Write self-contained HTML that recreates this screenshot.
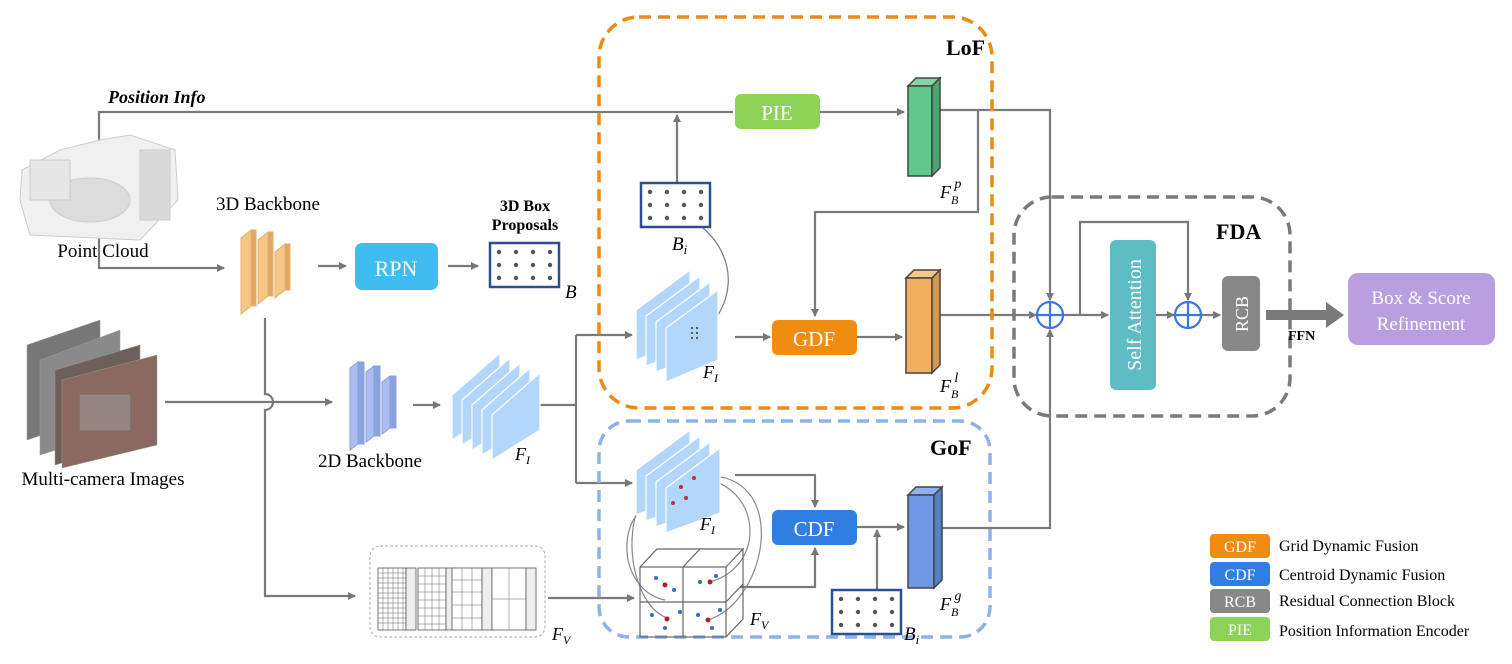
<!DOCTYPE html>
<html><head><meta charset="utf-8"><style>
html,body{margin:0;padding:0;background:#fff}
svg{display:block}
text{font-family:"Liberation Serif",serif}
</style></head><body>
<svg width="1512" height="664" viewBox="0 0 1512 664" xmlns="http://www.w3.org/2000/svg">
<defs>
<marker id="a" markerWidth="8" markerHeight="8" refX="7" refY="4" orient="auto" markerUnits="userSpaceOnUse"><path d="M0,0 L8,4 L0,8 z" fill="#777"/></marker>
</defs>
<g stroke="#7a7a7a" stroke-width="2.2" fill="none">
<polyline points="99,160 99,112 733,112" />
<polyline points="677,183 677,115" marker-end="url(#a)"/>
<line x1="820" y1="112" x2="904" y2="112" marker-end="url(#a)"/>
<polyline points="940,110 1050,110 1050,300" marker-end="url(#a)"/>
<polyline points="978,110 978,212 815,212 815,316" marker-end="url(#a)"/>
<polyline points="99,215 99,268 224,268" marker-end="url(#a)"/>
<line x1="318" y1="266" x2="346" y2="266" marker-end="url(#a)"/>
<line x1="448" y1="266" x2="478" y2="266" marker-end="url(#a)"/>
<path d="M265,318 L265,394 A8,8 0 0 1 265,410 L265,596 L355,596" marker-end="url(#a)"/>
<path d="M165,402 L332,402" marker-end="url(#a)"/>
<line x1="413" y1="405" x2="440" y2="405" marker-end="url(#a)"/>
<polyline points="540,405 576,405"/>
<polyline points="576,335 576,483"/>
<line x1="576" y1="335" x2="632" y2="335" marker-end="url(#a)"/>
<line x1="576" y1="483" x2="632" y2="483" marker-end="url(#a)"/>
<line x1="735" y1="337" x2="770" y2="337" marker-end="url(#a)"/>
<line x1="857" y1="337" x2="902" y2="337" marker-end="url(#a)"/>
<line x1="940" y1="315" x2="1036" y2="315" marker-end="url(#a)"/>
<path d="M703,228 C740,260 735,310 697,337" stroke-width="1.2" marker-end="url(#a)"/>
<polyline points="735,475 815,475 815,507" marker-end="url(#a)"/>
<polyline points="740,587 815,587 815,548" marker-end="url(#a)"/>
<line x1="857" y1="527" x2="904" y2="527" marker-end="url(#a)"/>
<line x1="877" y1="590" x2="877" y2="530" marker-end="url(#a)"/>
<polyline points="940,528 1050,528 1050,330" marker-end="url(#a)"/>
<line x1="548" y1="598" x2="634" y2="598" marker-end="url(#a)"/>
<line x1="1062" y1="315" x2="1108" y2="315" marker-end="url(#a)"/>
<polyline points="1080,315 1080,222 1188,222 1188,300" marker-end="url(#a)"/>
<line x1="1155" y1="315" x2="1174" y2="315" marker-end="url(#a)"/>
<line x1="1200" y1="315" x2="1220" y2="315" marker-end="url(#a)"/>
<g stroke-width="1.2" stroke="#888">
<path d="M665,600 C615,590 610,500 675,494" marker-end="url(#a)"/>
<path d="M667,618 C620,600 615,470 685,478" marker-end="url(#a)"/>
<path d="M710,582 C770,565 760,480 696,478" marker-end="url(#a)"/>
<path d="M708,620 C770,600 790,470 702,476" />
</g>
</g>
<rect x="599" y="17" width="393" height="391" rx="40" fill="none" stroke="#ec8a12" stroke-width="3.5" stroke-dasharray="12,7"/>
<rect x="599" y="421" width="391" height="216" rx="30" fill="none" stroke="#8db2ea" stroke-width="3.5" stroke-dasharray="12,7"/>
<rect x="1014" y="197" width="276" height="219" rx="38" fill="none" stroke="#7a7a7a" stroke-width="3.5" stroke-dasharray="12,7"/>
<rect x="370" y="546" width="175" height="91" rx="10" fill="none" stroke="#aaa" stroke-width="1" stroke-dasharray="3,2"/>
<text x="946" y="55" font-size="22" font-weight="bold">LoF</text>
<text x="930" y="455" font-size="22" font-weight="bold">GoF</text>
<text x="1216" y="239" font-size="22" font-weight="bold">FDA</text>
<text x="108" y="103" font-size="18" font-weight="bold" font-style="italic">Position Info</text>
<g fill="#e4e4e4" stroke="#ccc" stroke-width="1">
<path d="M22,170 L60,150 L100,140 L130,135 L175,150 L178,200 L140,240 L30,235 L20,200 z" fill="#f0f0f0"/>
<ellipse cx="90" cy="200" rx="40" ry="22" fill="#dcdcdc"/>
<rect x="140" y="150" width="30" height="70" fill="#dadada"/>
<rect x="30" y="160" width="40" height="40" fill="#e6e6e6"/>
</g>
<text x="103" y="257" font-size="19" text-anchor="middle">Point Cloud</text>
<g stroke="#999" stroke-width="0.5">
<polygon points="27,345 100,320 100,415 27,440" fill="#777"/>
<polygon points="40,360 120,330 120,430 40,455" fill="#8a8a8a"/>
<polygon points="55,370 140,345 140,440 55,465" fill="#6d5f5a"/>
<polygon points="62,380 157,355 157,445 62,468" fill="#8a6a60"/>
<rect x="80" y="395" width="50" height="35" fill="#999" opacity=".6"/>
</g>
<text x="103" y="485" font-size="19" text-anchor="middle">Multi-camera Images</text>
<text x="268" y="210" font-size="19" text-anchor="middle">3D Backbone</text>
<g stroke="#e0b070" stroke-width="1">
<polygon points="241,238 251,230 251,306 241,314" fill="#f6c784"/>
<polygon points="251,230 256,230 256,306 251,306" fill="#e3a860"/>
<polygon points="258,240 268,232 268,296 258,304" fill="#f6c784"/>
<polygon points="268,232 273,232 273,296 268,296" fill="#e3a860"/>
<polygon points="275,252 285,244 285,290 275,298" fill="#f6c784"/>
<polygon points="285,244 290,244 290,290 285,290" fill="#e3a860"/>
</g>
<rect x="355" y="243" width="83" height="47" rx="7" fill="#3ebdf0"/>
<text x="396" y="276" font-size="22" fill="#fff" text-anchor="middle">RPN</text>
<text x="525" y="211" font-size="16" font-weight="bold" text-anchor="middle">3D Box</text>
<text x="525" y="230" font-size="16" font-weight="bold" text-anchor="middle">Proposals</text>
<g id="bx">
<rect x="490" y="243" width="69" height="44" fill="#fff" stroke="#2b4f94" stroke-width="2.5"/>
<g fill="#555"><circle cx="499" cy="252" r="2.2"/><circle cx="516" cy="252" r="2.2"/><circle cx="533" cy="252" r="2.2"/><circle cx="550" cy="252" r="2.2"/>
<circle cx="499" cy="265" r="2.2"/><circle cx="516" cy="265" r="2.2"/><circle cx="533" cy="265" r="2.2"/><circle cx="550" cy="265" r="2.2"/>
<circle cx="499" cy="278" r="2.2"/><circle cx="516" cy="278" r="2.2"/><circle cx="533" cy="278" r="2.2"/><circle cx="550" cy="278" r="2.2"/></g>
</g>
<text x="565" y="298" font-size="19" font-style="italic">B</text>
<use href="#bx" x="151" y="-60"/>
<text x="672" y="250" font-size="19" font-style="italic">B<tspan font-size="13" dy="4">i</tspan></text>
<use href="#bx" x="342" y="347"/>
<text x="904" y="640" font-size="19" font-style="italic">B<tspan font-size="13" dy="4">i</tspan></text>
<g stroke="#8aa0d8" stroke-width="1">
<polygon points="350,368 358,362 358,444 350,450" fill="#a9bdf0"/>
<polygon points="358,362 364,362 364,444 358,444" fill="#8aa2e0"/>
<polygon points="366,372 374,366 374,436 366,442" fill="#a9bdf0"/>
<polygon points="374,366 380,366 380,436 374,436" fill="#8aa2e0"/>
<polygon points="382,382 390,376 390,428 382,434" fill="#a9bdf0"/>
<polygon points="390,376 396,376 396,428 390,428" fill="#8aa2e0"/>
</g>
<text x="370" y="467" font-size="19" text-anchor="middle">2D Backbone</text>
<g fill="#b3d6fb" stroke="#fff" stroke-width="1.2">
<polygon points="452,395 500,353 500,410 452,440"/>
<polygon points="462,400 510,358 510,415 462,445"/>
<polygon points="472,405 520,363 520,420 472,450"/>
<polygon points="482,410 530,368 530,425 482,455"/>
<polygon points="492,415 540,373 540,430 492,460"/>
</g>
<text x="515" y="460" font-size="18" font-style="italic">F<tspan font-size="12" dy="4">I</tspan></text>
<g fill="#b3d6fb" stroke="#fff" stroke-width="1.2">
<polygon points="636,310 690,270 690,340 636,360"/>
<polygon points="646,316 700,276 700,346 646,366"/>
<polygon points="656,322 710,282 710,352 656,372"/>
<polygon points="666,328 718,290 718,360 666,382"/>
</g>
<g fill="#333"><circle cx="692" cy="328" r="1"/><circle cx="697" cy="328" r="1"/><circle cx="692" cy="333" r="1"/><circle cx="697" cy="333" r="1"/><circle cx="692" cy="338" r="1"/><circle cx="697" cy="338" r="1"/></g>
<text x="703" y="378" font-size="18" font-style="italic">F<tspan font-size="12" dy="4">I</tspan></text>
<g fill="#b3d6fb" stroke="#fff" stroke-width="1.2">
<polygon points="636,470 690,430 690,495 636,515"/>
<polygon points="646,476 700,436 700,501 646,521"/>
<polygon points="656,482 710,442 710,507 656,527"/>
<polygon points="666,488 720,448 720,513 666,533"/>
</g>
<g fill="#c0303a"><circle cx="681" cy="487" r="2"/><circle cx="686" cy="498" r="2"/><circle cx="673" cy="503" r="2"/><circle cx="694" cy="478" r="2"/></g>
<text x="700" y="530" font-size="18" font-style="italic">F<tspan font-size="12" dy="4">I</tspan></text>
<rect x="735" y="94" width="85" height="35" rx="6" fill="#8dd357"/>
<text x="777" y="120" font-size="21" fill="#fff" text-anchor="middle">PIE</text>
<rect x="772" y="320" width="85" height="35" rx="6" fill="#f08c10"/>
<text x="814" y="346" font-size="21" fill="#fff" text-anchor="middle">GDF</text>
<rect x="772" y="510" width="85" height="35" rx="6" fill="#2f7ee0"/>
<text x="814" y="536" font-size="21" fill="#fff" text-anchor="middle">CDF</text>
<g stroke="#444" stroke-width="1.5">
<polygon points="908,86 916,78 940,78 932,86" fill="#7fd7a2"/>
<rect x="908" y="86" width="24" height="90" fill="#5fc88b"/>
<polygon points="932,86 940,78 940,168 932,176" fill="#45a870"/>
<polygon points="906,278 914,270 940,270 932,278" fill="#f6c786"/>
<rect x="906" y="278" width="26" height="95" fill="#f0b15e"/>
<polygon points="932,278 940,270 940,365 932,373" fill="#d99848"/>
<polygon points="908,495 916,487 942,487 934,495" fill="#8fb1ef"/>
<rect x="908" y="495" width="26" height="93" fill="#6e98e6"/>
<polygon points="934,495 942,487 942,580 934,588" fill="#5580cc"/>
</g>
<text x="940" y="198" font-size="18" font-style="italic">F<tspan font-size="12" dy="6">B</tspan><tspan font-size="14" dx="-4" dy="-16">p</tspan></text>
<text x="940" y="392" font-size="18" font-style="italic">F<tspan font-size="12" dy="6">B</tspan><tspan font-size="14" dx="-4" dy="-16">l</tspan></text>
<text x="940" y="610" font-size="18" font-style="italic">F<tspan font-size="12" dy="6">B</tspan><tspan font-size="14" dx="-4" dy="-16">g</tspan></text>
<g fill="#fff" stroke="#555" stroke-width="0.8">
<rect x="378" y="568" width="28" height="62"/><rect x="406" y="568" width="10" height="62" fill="#eee"/>
<rect x="418" y="568" width="28" height="62"/><rect x="446" y="568" width="10" height="62" fill="#eee"/>
<rect x="452" y="568" width="30" height="62"/><rect x="482" y="568" width="10" height="62" fill="#eee"/>
<rect x="492" y="568" width="34" height="62"/><rect x="526" y="568" width="10" height="62" fill="#eee"/>
</g>
<g stroke="#666" stroke-width="0.5">
<path d="M378,573h28M378,578h28M378,583h28M378,588h28M378,593h28M378,598h28M378,603h28M378,608h28M378,613h28M378,618h28M378,623h28M383,568v62M388,568v62M393,568v62M398,568v62M403,568v62"/>
<path d="M418,576h28M418,584h28M418,592h28M418,600h28M418,608h28M418,616h28M418,624h28M425,568v62M432,568v62M439,568v62"/>
<path d="M452,580h30M452,592h30M452,605h30M452,618h30M462,568v62M472,568v62"/>
<path d="M492,599h34M509,568v62"/>
</g>
<text x="552" y="640" font-size="18" font-style="italic">F<tspan font-size="12" dy="4">V</tspan></text>
<g fill="none" stroke="#666" stroke-width="1.2">
<rect x="640" y="567" width="86" height="70"/>
<path d="M683,567v70M640,602h86M640,567l17,-18h86l-17,18M683,567l17,-18M726,567l17,-18v70l-17,18M743,584l-17,18"/>
</g>
<g fill="#3a6ab8"><circle cx="656" cy="578" r="2"/><circle cx="674" cy="590" r="2"/><circle cx="652" cy="615" r="2"/><circle cx="665" cy="628" r="2"/><circle cx="680" cy="612" r="2"/><circle cx="700" cy="582" r="2"/><circle cx="716" cy="576" r="2"/><circle cx="698" cy="615" r="2"/><circle cx="712" cy="628" r="2"/><circle cx="720" cy="610" r="2"/></g>
<g fill="#b02030"><circle cx="665" cy="585" r="2.5"/><circle cx="710" cy="582" r="2.5"/><circle cx="667" cy="619" r="2.5"/><circle cx="708" cy="620" r="2.5"/></g>
<text x="750" y="625" font-size="18" font-style="italic">F<tspan font-size="12" dy="4">V</tspan></text>
<g fill="none" stroke="#3a78e0" stroke-width="2.2">
<circle cx="1050" cy="315" r="13"/><path d="M1037,315h26M1050,302v26"/>
<circle cx="1188" cy="315" r="13"/><path d="M1175,315h26M1188,302v26"/>
</g>
<rect x="1110" y="240" width="46" height="150" rx="6" fill="#5ebcc4"/>
<text transform="translate(1141,315) rotate(-90)" font-size="20" fill="#fff" text-anchor="middle">Self Attention</text>
<rect x="1222" y="276" width="38" height="75" rx="6" fill="#888"/>
<text transform="translate(1248,314) rotate(-90)" font-size="18" fill="#fff" text-anchor="middle">RCB</text>
<rect x="1266" y="310" width="60" height="10" fill="#7a7a7a"/>
<polygon points="1326,302 1344,315 1326,328" fill="#7a7a7a"/>
<text x="1288" y="340" font-size="14" font-weight="bold">FFN</text>
<rect x="1348" y="273" width="147" height="72" rx="10" fill="#b89fe0"/>
<text x="1421" y="304" font-size="19" fill="#fff" text-anchor="middle">Box &amp; Score</text>
<text x="1421" y="330" font-size="19" fill="#fff" text-anchor="middle">Refinement</text>
<rect x="1210" y="534" width="60" height="24" rx="4" fill="#f08c10"/><text x="1240" y="552" font-size="16" fill="#fff" text-anchor="middle">GDF</text>
<rect x="1210" y="562" width="60" height="24" rx="4" fill="#2f7ee0"/><text x="1240" y="580" font-size="16" fill="#fff" text-anchor="middle">CDF</text>
<rect x="1210" y="589" width="60" height="24" rx="4" fill="#888"/><text x="1240" y="607" font-size="16" fill="#fff" text-anchor="middle">RCB</text>
<rect x="1210" y="617" width="60" height="24" rx="4" fill="#8dd357"/><text x="1240" y="635" font-size="16" fill="#fff" text-anchor="middle">PIE</text>
<text x="1279" y="551" font-size="16">Grid Dynamic Fusion</text>
<text x="1279" y="580" font-size="16">Centroid Dynamic Fusion</text>
<text x="1279" y="606" font-size="16">Residual Connection Block</text>
<text x="1279" y="636" font-size="16">Position Information Encoder</text>
</svg>
</body></html>
